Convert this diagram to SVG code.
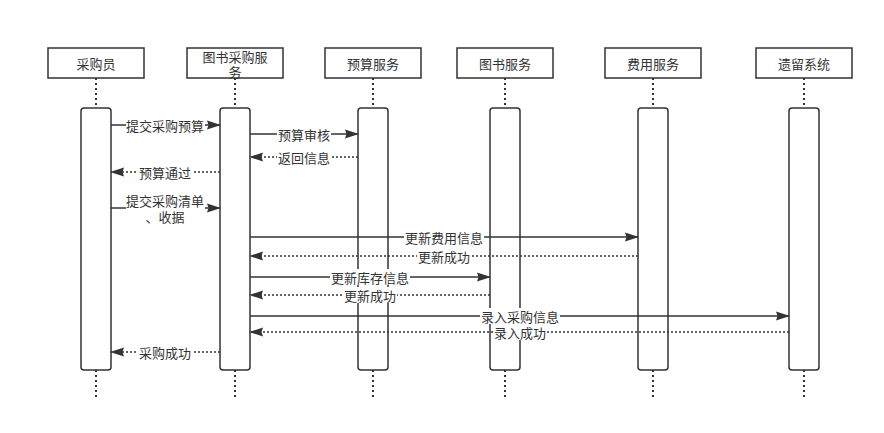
<svg xmlns="http://www.w3.org/2000/svg" width="884" height="433" viewBox="0 0 884 433">
<defs>
<marker id="ah" markerWidth="14" markerHeight="10" refX="13" refY="5" orient="auto" markerUnits="userSpaceOnUse">
<path d="M0,0.5 L14,5 L0,9.5 L1.5,5 Z" fill="#333"/>
</marker>
<style>
.hdr{fill:#fff;stroke:#333;stroke-width:1.5}
.act{fill:#fff;stroke:#333;stroke-width:1.5}
.life{stroke:#333;stroke-width:2;stroke-dasharray:2 3;fill:none}
.msg{stroke:#333;stroke-width:1.5;fill:none;marker-end:url(#ah)}
.ret{stroke:#333;stroke-width:1.5;fill:none;stroke-dasharray:2 2;marker-end:url(#ah)}
text{font-family:"Noto Sans CJK SC","Liberation Sans",sans-serif;font-size:13px;fill:#333;dominant-baseline:central;text-anchor:middle}
.bg{fill:#fff}
</style>
</defs>
<rect width="884" height="433" fill="#fff"/>
<g id="lifelines">
<path class="life" d="M96,78 V108 M96,370 V400"/>
<path class="life" d="M235,78 V108 M235,370 V400"/>
<path class="life" d="M373,78 V108 M373,370 V400"/>
<path class="life" d="M505,78 V108 M505,370 V400"/>
<path class="life" d="M653,78 V108 M653,370 V400"/>
<path class="life" d="M804,78 V108 M804,370 V400"/>
</g>
<g id="node-buyer">
<rect class="hdr" x="48" y="48" width="96" height="30"/>
<text x="96" y="63">采购员</text>
<rect class="act" x="81" y="108" width="30" height="262" rx="3"/>
</g>
<g id="node-purchase">
<rect class="hdr" x="187" y="48" width="96" height="30"/>
<text x="235" y="56">图书采购服</text>
<text x="235" y="71">务</text>
<rect class="act" x="220" y="108" width="30" height="262" rx="3"/>
</g>
<g id="node-budget">
<rect class="hdr" x="325" y="48" width="96" height="30"/>
<text x="373" y="63">预算服务</text>
<rect class="act" x="358" y="108" width="30" height="262" rx="3"/>
</g>
<g id="node-book">
<rect class="hdr" x="457" y="48" width="96" height="30"/>
<text x="505" y="63">图书服务</text>
<rect class="act" x="490" y="108" width="30" height="262" rx="3"/>
</g>
<g id="node-fee">
<rect class="hdr" x="605" y="48" width="96" height="30"/>
<text x="653" y="63">费用服务</text>
<rect class="act" x="638" y="108" width="30" height="262" rx="3"/>
</g>
<g id="node-legacy">
<rect class="hdr" x="756" y="48" width="96" height="30"/>
<text x="804" y="63">遗留系统</text>
<rect class="act" x="789" y="108" width="30" height="262" rx="3"/>
</g>
<g id="connectors">
<line class="msg" x1="111" y1="125" x2="220" y2="125"/>
<rect class="bg" x="126" y="117" width="79" height="16"/><text x="165" y="125">提交采购预算</text>

<line class="msg" x1="250" y1="134" x2="358" y2="134"/>
<rect class="bg" x="277" y="126" width="54" height="16"/><text x="304" y="134">预算审核</text>

<line class="ret" x1="358" y1="157" x2="250" y2="157"/>
<rect class="bg" x="277" y="149" width="54" height="16"/><text x="304" y="157">返回信息</text>

<line class="ret" x1="220" y1="172" x2="111" y2="172"/>
<rect class="bg" x="138" y="164" width="54" height="16"/><text x="165" y="172">预算通过</text>

<line class="msg" x1="111" y1="208" x2="220" y2="208"/>
<rect class="bg" x="126" y="192" width="79" height="32"/><text x="165" y="200">提交采购清单</text><text x="165" y="216">、收据</text>

<line class="msg" x1="250" y1="237" x2="638" y2="237"/>
<rect class="bg" x="404" y="229" width="80" height="16"/><text x="444" y="237">更新费用信息</text>

<line class="ret" x1="638" y1="256" x2="250" y2="256"/>
<rect class="bg" x="417" y="248" width="54" height="16"/><text x="444" y="256">更新成功</text>

<line class="msg" x1="250" y1="277" x2="490" y2="277"/>
<rect class="bg" x="330" y="269" width="80" height="16"/><text x="370" y="277">更新库存信息</text>

<line class="ret" x1="490" y1="295" x2="250" y2="295"/>
<rect class="bg" x="343" y="287" width="54" height="16"/><text x="370" y="295">更新成功</text>

<line class="msg" x1="250" y1="316" x2="789" y2="316"/>
<rect class="bg" x="480" y="308" width="80" height="16"/><text x="520" y="316">录入采购信息</text>

<line class="ret" x1="789" y1="332" x2="250" y2="332"/>
<rect class="bg" x="493" y="324" width="54" height="16"/><text x="520" y="332">录入成功</text>

<line class="ret" x1="220" y1="352" x2="111" y2="352"/>
<rect class="bg" x="138" y="344" width="54" height="16"/><text x="165" y="352">采购成功</text>
</g>
</svg>
